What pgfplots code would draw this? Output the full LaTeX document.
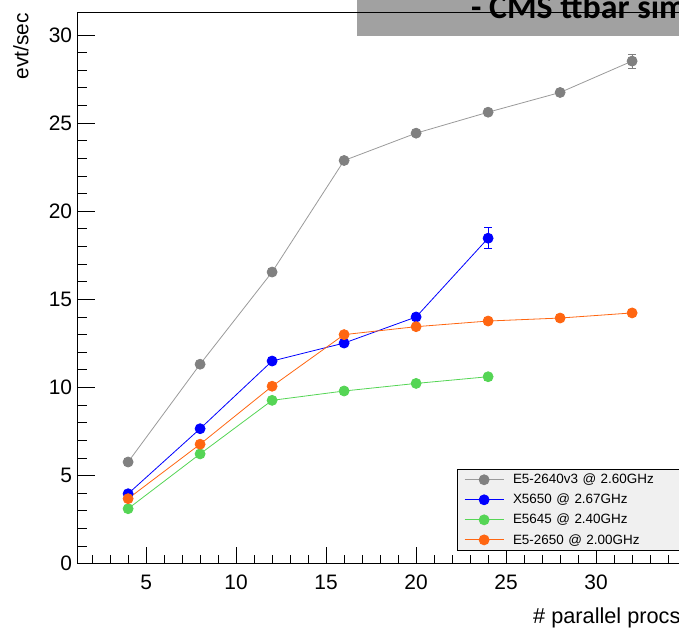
\documentclass[border=0pt]{standalone}
\usepackage{pgfplots}
\pgfplotsset{compat=1.18}
\usepackage{fontspec}
\setmainfont{Liberation Sans}
\newfontfamily\titlefont{Carlito}
\definecolor{cgray}{HTML}{808080}
\definecolor{cblue}{HTML}{0000FF}
\definecolor{cgreen}{HTML}{55D555}
\definecolor{corange}{HTML}{FF6611}
\definecolor{legfill}{HTML}{F0F0F0}
\begin{document}
\begin{tikzpicture}
\useasboundingbox (0,0) rectangle (679bp,628bp);
\clip (0,0) rectangle (679bp,628bp);
\begin{axis}[
  at={(77.7bp,64.3bp)}, anchor=south west,
  scale only axis, width=626.4bp, height=551.4bp,
  xmin=1.2, xmax=36, ymin=0, ymax=31.29,
  xtick={5,10,...,30}, ytick={0,5,...,30},
  minor xtick={2,3,4,6,7,8,9,11,12,13,14,16,17,18,19,21,22,23,24,26,27,28,29,31,32,33,34,35},
  minor y tick num=4,
  tick pos=left,
  major tick length=17bp, minor tick length=9bp,
  tick style={black, line width=0.8bp},
  axis line style={black, line width=1bp},
  /pgf/number format/assume math mode=true,
  tick label style={font=\fontsize{21}{25}\selectfont},
  xticklabel style={inner sep=0pt, yshift=-11bp},
  yticklabel style={inner sep=0pt, xshift=-5.4bp},
  legend cell align=left,
  legend style={at={(axis cs:22.29,5.36)}, anchor=north west, draw=black, line width=0.8bp,
    fill=legfill, font=\fontsize{13.5}{16}\selectfont, inner xsep=6.5bp, inner ysep=4.5bp,
    row sep=8.8bp, nodes={inner sep=0pt},
    /tikz/every odd column/.append style={column sep=9bp},
    /tikz/every even column/.append style={text width=166bp}},
  legend image code/.code={\draw[mark repeat=2,mark phase=2,#1] plot coordinates {(0bp,0bp) (19.5bp,0bp) (39bp,0bp)};},
]
\addplot[cgray!80, line width=0.8bp, mark=*, mark size=5bp, mark options={fill=cgray, draw=cgray},
  error bars/.cd, y dir=both, y explicit, error bar style={line width=1bp, cgray},
  error mark options={rotate=90, mark size=4bp, line width=1bp, cgray}]
  coordinates {(4,5.77)+-(0,0.1) (8,11.32)+-(0,0.1) (12,16.55)+-(0,0.1) (16,22.88)+-(0,0.1) (20,24.43)+-(0,0.1) (24,25.62)+-(0,0.1) (28,26.74)+-(0,0.1) (32,28.52)+-(0,0.4)};
\addlegendentry{E5-2640v3 @ 2.60GHz}
\addplot[cblue, line width=0.8bp, mark=*, mark size=5bp, mark options={fill=cblue, draw=cblue},
  error bars/.cd, y dir=both, y explicit, error bar style={line width=1bp, cblue},
  error mark options={rotate=90, mark size=4bp, line width=1bp, cblue}]
  coordinates {(4,3.97)+-(0,0.1) (8,7.66)+-(0,0.1) (12,11.5)+-(0,0.1) (16,12.52)+-(0,0.1) (20,14.0)+-(0,0.2) (24,18.47)+-(0,0.6)};
\addlegendentry{X5650 @ 2.67GHz}
\addplot[cgreen, line width=0.8bp, mark=*, mark size=5bp, mark options={fill=cgreen, draw=cgreen},
  error bars/.cd, y dir=both, y explicit, error bar style={line width=1bp, cgreen},
  error mark options={rotate=90, mark size=4bp, line width=1bp, cgreen}]
  coordinates {(4,3.12)+-(0,0.1) (8,6.23)+-(0,0.1) (12,9.27)+-(0,0.1) (16,9.8)+-(0,0.1) (20,10.23)+-(0,0.1) (24,10.61)+-(0,0.2)};
\addlegendentry{E5645 @ 2.40GHz}
\addplot[corange, line width=0.8bp, mark=*, mark size=5bp, mark options={fill=corange, draw=corange},
  error bars/.cd, y dir=both, y explicit, error bar style={line width=1bp, corange},
  error mark options={rotate=90, mark size=4bp, line width=1bp, corange}]
  coordinates {(4,3.69)+-(0,0.1) (8,6.78)+-(0,0.1) (12,10.07)+-(0,0.1) (16,13.0)+-(0,0.1) (20,13.45)+-(0,0.1) (24,13.77)+-(0,0.1) (28,13.94)+-(0,0.1) (32,14.23)+-(0,0.1)};
\addlegendentry{E5-2650 @ 2.00GHz}
\end{axis}
\fill[black, opacity=0.37] (357.3bp,592bp) rectangle (679bp,628bp);
\node[anchor=base west, inner sep=0pt, font=\titlefont\bfseries\fontsize{34}{40}\selectfont] at (471bp,609bp) {- CMS ttbar simulation};
\node[rotate=90, anchor=base east, inner sep=0pt, font=\fontsize{21}{25}\selectfont] at (28.3bp,615bp) {evt/sec};
\node[anchor=base west, inner sep=0pt, font=\fontsize{21.8}{26}\selectfont] at (533bp,4.7bp) {\# parallel procs};
\end{tikzpicture}
\end{document}
